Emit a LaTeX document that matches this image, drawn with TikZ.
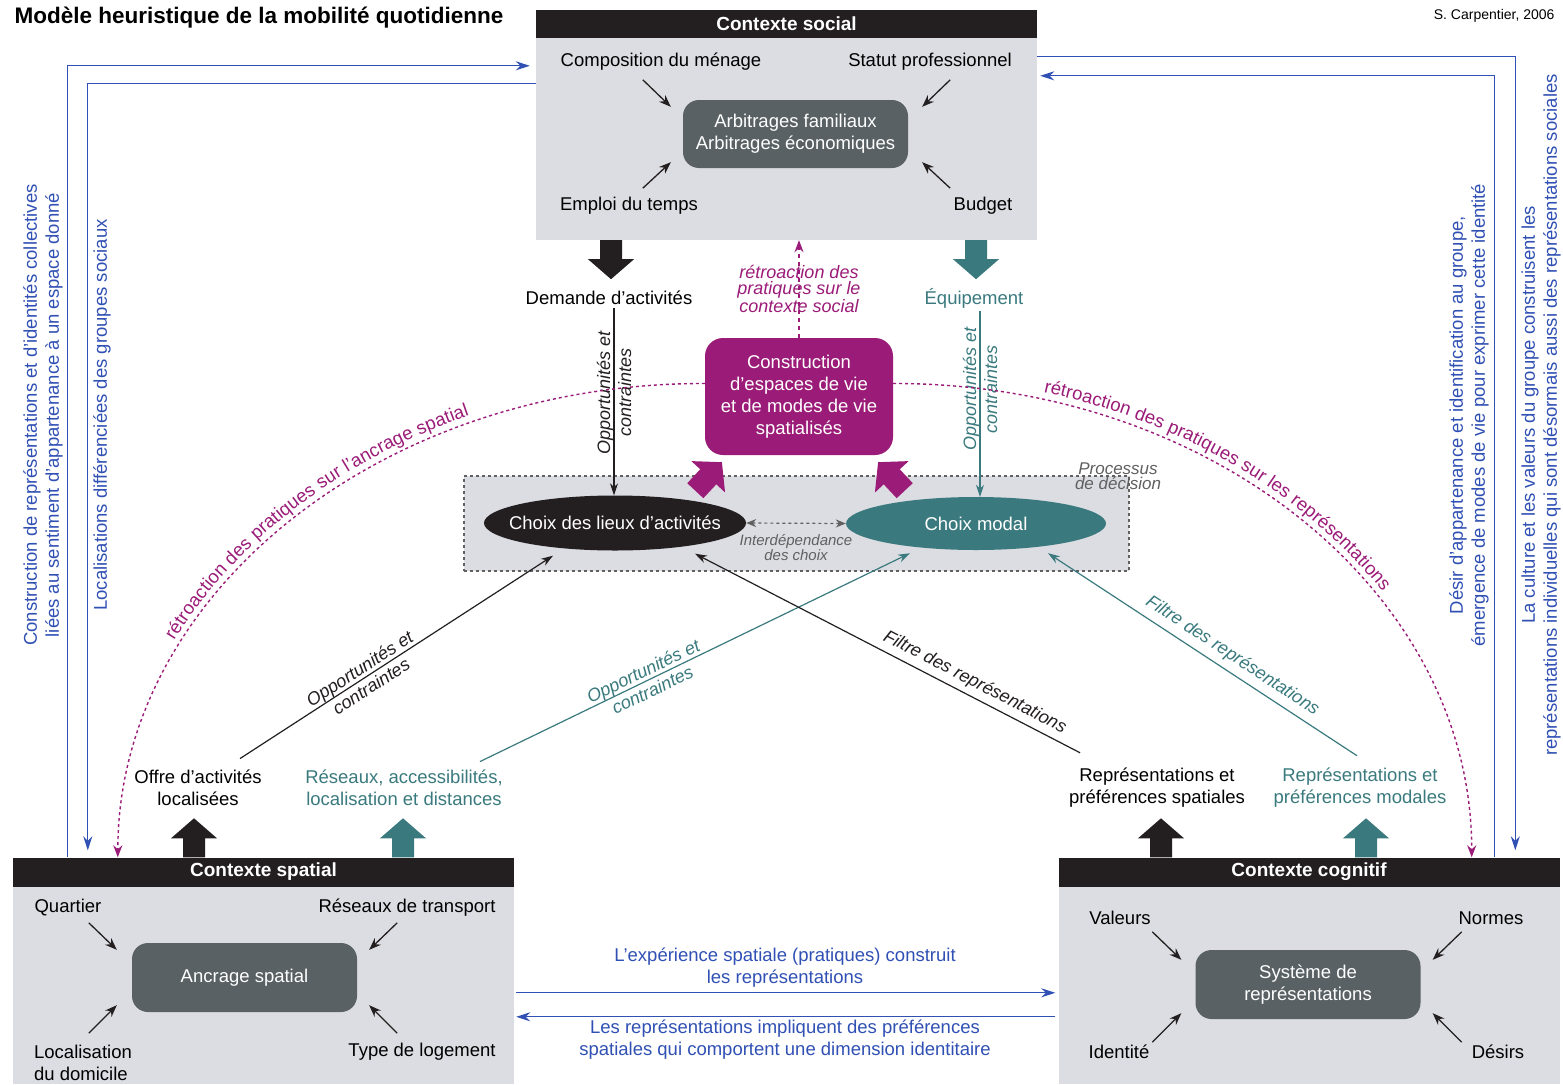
\documentclass[tikz,border=0pt]{standalone}
\usepackage{fontspec}
\setmainfont{Liberation Sans}
\usetikzlibrary{arrows.meta,calc,shapes.geometric,decorations.text}

\definecolor{hdblack}{HTML}{231F20}
\definecolor{boxgray}{HTML}{DCDDE2}
\definecolor{coregray}{HTML}{596164}
\definecolor{tealc}{HTML}{3A7A7E}
\definecolor{retromag}{HTML}{9B1C78}
\definecolor{linkblue}{HTML}{3050B4}
\definecolor{dashgray}{HTML}{606060}

\tikzset{
  ctxhead/.style={fill=hdblack, text=white, font=\bfseries\fontsize{19}{22}\selectfont, minimum width=501pt, minimum height=29pt, inner sep=0pt},
  ctxbody/.style={fill=boxgray, minimum width=501pt, inner sep=0pt},
  core/.style={fill=coregray, text=white, rounded corners=16pt, minimum width=225pt, minimum height=68pt, align=center},
  feed/.style={-{Stealth[length=12pt,width=9pt]}, line width=1.3pt, hdblack},
  link/.style={-{Stealth[length=12pt,width=8pt]}, line width=1.2pt},
  bluelink/.style={-{Stealth[length=14pt,width=9pt]}, line width=1.2pt, linkblue},
  retro/.style={retromag, line width=1.4pt, dash pattern=on 3pt off 3pt, -{Stealth[length=12pt,width=9pt]}},
  lbl/.style={font=\itshape\fontsize{18}{21}\selectfont, align=center, inner sep=1pt},
  bluetext/.style={text=linkblue, align=center},
  blockup/.pic={\fill (-11,0) -- (-11,-19) -- (-23,-19) -- (0,-39) -- (23,-19) -- (11,-19) -- (11,0) -- cycle;}
}

\begin{document}
\begin{tikzpicture}[x=1pt, y=-1pt, font=\fontsize{18.5}{22}\selectfont]
\fill[white] (0,0) rectangle (1563,1084);
\useasboundingbox (0,0) rectangle (1563,1084);

\node[anchor=west, font=\bfseries\fontsize{22.5}{24}\selectfont] (title) at (11,18) {Modèle heuristique de la mobilité quotidienne};
\node[anchor=east, font=\fontsize{14}{16}\selectfont] (credit) at (1558,16) {S. Carpentier, 2006};

\node[ctxhead] (socialhead) at (786.5,24) {Contexte social};
\node[ctxbody, minimum height=202pt] (socialbody) at (786.5,139) {};
\node[core] (arbit) at (795.5,134) {Arbitrages familiaux\\Arbitrages économiques};
\node (menage) at (661,62) {Composition du ménage};
\node (statut) at (930,62) {Statut professionnel};
\node (emploi) at (629,206) {Emploi du temps};
\node (budget) at (983,206) {Budget};

\node[ctxhead] (spatialhead) at (263.5,872) {Contexte spatial};
\node[ctxbody, minimum height=197pt] (spatialbody) at (263.5,985.5) {};
\node[core, minimum height=69pt] (ancrage) at (244.5,977.5) {Ancrage spatial};
\node (quartier) at (68,908) {Quartier};
\node (transport) at (407,908) {Réseaux de transport};
\node[align=left] (domicile) at (83,1063) {Localisation\\du domicile};
\node (logement) at (422,1052) {Type de logement};

\node[ctxhead] (cognhead) at (1309,872) {Contexte cognitif};
\node[ctxbody, minimum height=197pt] (cognbody) at (1309,985.5) {};
\node[core, minimum height=69pt] (systeme) at (1308,984.5) {Système de\\représentations};
\node (valeurs) at (1120,918) {Valeurs};
\node (normes) at (1491,918) {Normes};
\node (identite) at (1119,1052) {Identité};
\node (desirs) at (1498,1052) {Désirs};

\draw[feed] ($(arbit.north west)+(-40,-20)$) -- ($(arbit.north west)+(-12,7)$);
\draw[feed] ($(arbit.north east)+(42,-20)$) -- ($(arbit.north east)+(14,7)$);
\draw[feed] ($(arbit.south west)+(-40,20)$) -- ($(arbit.south west)+(-12,-6)$);
\draw[feed] ($(arbit.south east)+(42,20)$) -- ($(arbit.south east)+(14,-6)$);
\draw[feed] ($(ancrage.north west)+(-43,-20)$) -- ($(ancrage.north west)+(-15,7)$);
\draw[feed] ($(ancrage.north east)+(40,-20)$) -- ($(ancrage.north east)+(12,7)$);
\draw[feed] ($(ancrage.south west)+(-43,21)$) -- ($(ancrage.south west)+(-15,-7)$);
\draw[feed] ($(ancrage.south east)+(40,21)$) -- ($(ancrage.south east)+(12,-7)$);
\draw[feed] ($(systeme.north west)+(-43,-18)$) -- ($(systeme.north west)+(-14,10)$);
\draw[feed] ($(systeme.north east)+(41,-18)$) -- ($(systeme.north east)+(12,10)$);
\draw[feed] ($(systeme.south west)+(-43,23)$) -- ($(systeme.south west)+(-14,-6)$);
\draw[feed] ($(systeme.south east)+(41,23)$) -- ($(systeme.south east)+(12,-6)$);

\node[draw=dashgray, dashed, fill=boxgray, line width=1.2pt, minimum width=665pt, minimum height=95pt] (decision) at (796.5,523.5) {};
\node[lbl, text=dashgray, font=\itshape\fontsize{17}{15}\selectfont] (processus) at (1118,476) {Processus\\de décision};
\node[ellipse, fill=hdblack, minimum width=262pt, minimum height=55pt, inner sep=0pt] (lieux) at (615,523) {};
\node[text=white] (lieuxtext) at (lieux) {Choix des lieux d'activités};
\node[ellipse, fill=tealc, minimum width=260pt, minimum height=53pt, inner sep=0pt] (modal) at (976,523.5) {};
\node[text=white] (modaltext) at (modal) {Choix modal};

\node[fill=retromag, text=white, rounded corners=18pt, minimum width=188pt, minimum height=117pt, align=center] (constr) at (799,396.5) {Construction\\d'espaces de vie\\et de modes de vie\\spatialisés};
\path ($(constr.south west)+(-9.5,35.5)$) pic[retromag, rotate=-43] {blockup};
\path ($(constr.south east)+(11.5,35.5)$) pic[retromag, rotate=43] {blockup};

\node (demande) at (609,298) {Demande d'activités};
\node[text=tealc] (equip) at (974,298) {Équipement};
\node[align=center] (offre) at (198,788) {Offre d'activités\\localisées};
\node[align=center, text=tealc] (reseaux) at (404,788) {Réseaux, accessibilités,\\localisation et distances};
\node[align=center] (repspat) at (1157,788) {Représentations et\\préférences spatiales};
\node[align=center, text=tealc] (repmod) at (1360,788) {Représentations et\\préférences modales};

\path ($(socialbody.south -| demande)+(2,0)$) pic[hdblack, rotate=180] {blockup};
\path ($(socialbody.south -| equip)+(2,0)$) pic[tealc, rotate=180] {blockup};
\path ($(spatialhead.north -| offre)+(-4,0)$) pic[hdblack] {blockup};
\path ($(spatialhead.north -| reseaux)+(-1,0)$) pic[tealc] {blockup};
\path ($(cognhead.north -| repspat)+(4,0)$) pic[hdblack] {blockup};
\path ($(cognhead.north -| repmod)+(6,0)$) pic[tealc] {blockup};

\draw[link, hdblack] ($(demande.south)+(5,0)$) -- ($(lieux.north)+(-1,0)$) node[pos=0.45, rotate=90, lbl] {Opportunités et\\contraintes};
\draw[link, tealc] ($(equip.south)+(6,0)$) -- ($(modal.north)+(4,0)$) node[pos=0.42, rotate=90, lbl, text=tealc] {Opportunités et\\contraintes};
\draw[link, hdblack] ($(offre.north)+(42,-8)$) -- ($(lieux.south)+(-62,5)$) node[pos=0.4, sloped, lbl] {Opportunités et\\contraintes};
\draw[link, tealc] ($(reseaux.north)+(76,-5)$) -- ($(modal.south)+(-66,3)$) node[pos=0.39, sloped, lbl, text=tealc] {Opportunités et\\contraintes};
\draw[link, hdblack] ($(repspat.north)+(-77,-12)$) -- ($(lieux.south)+(80,3)$) node[pos=0.29, sloped, above=4pt, lbl] {Filtre des représentations};
\draw[link, tealc] ($(repmod.north)+(-3,-9)$) -- ($(modal.south)+(72,3)$) node[pos=0.43, sloped, above=5pt, lbl, text=tealc] {Filtre des représentations};
\draw[dashgray, dashed, line width=1.2pt, {Stealth[length=10pt,width=8pt]}-{Stealth[length=10pt,width=8pt]}] (lieux.east) -- (modal.west) node[midway, below=10pt, lbl, text=dashgray, font=\itshape\fontsize{15}{15}\selectfont] {Interdépendance\\des choix};

\draw[retro, dash pattern=on 4pt off 4pt] (constr.north) -- (constr.north |- socialbody.south) node[midway, lbl, text=retromag, font=\itshape\fontsize{18}{15.5}\selectfont] {rétroaction des\\pratiques sur le\\contexte social};
\draw[retro] ($(constr.west)+(0,-13)$) .. controls (380,383) and (118,595) .. ($(spatialhead.north west)+(105,0)$);
\draw[retro] ($(constr.east)+(0,-13)$) .. controls (1215,383) and (1472,595) .. ($(cognhead.north east)+(-88,0)$);
\path[decorate, decoration={text along path, raise=7pt, text align={left, left indent=225pt}, text={|\fontsize{18.5}{22}\selectfont\color{retromag}|rétroaction des pratiques sur l'ancrage spatial}}] ($(spatialhead.north west)+(105,0)$) .. controls (118,595) and (380,383) .. ($(constr.west)+(0,-13)$);
\path[decorate, decoration={text along path, raise=7pt, text align={left, left indent=150pt}, text={|\fontsize{18.5}{22}\selectfont\color{retromag}|rétroaction des pratiques sur les représentations}}] ($(constr.east)+(0,-13)$) .. controls (1215,383) and (1472,595) .. ($(cognhead.north east)+(-88,0)$);

\draw[bluelink] ($(spatialhead.north west)+(55,0)$) |- ($(socialbody.north west)+(-6,28)$);
\draw[bluelink] ($(socialbody.north west)+(0,46)$) -| ($(spatialhead.north west)+(75,-7)$);
\draw[bluelink] ($(socialbody.north east)+(0,19)$) -| ($(cognhead.north west)+(457,-7)$);
\draw[bluelink] ($(cognhead.north west)+(436,0)$) |- ($(socialbody.north east)+(3,38)$);
\draw[bluelink] ($(spatialbody.north east)+(2,106)$) -- ($(cognbody.north west)+(-3,106)$);
\draw[bluelink] ($(cognbody.north west)+(-3,130)$) -- ($(spatialbody.north east)+(2,130)$);

\node[rotate=90, bluetext] (identlbl) at (43,415) {Construction de représentations et d'identités collectives\\liées au sentiment d'appartenance à un espace donné};
\node[rotate=90, bluetext] (localbl) at (102,415) {Localisations différenciées des groupes sociaux};
\node[rotate=90, bluetext] (desirlbl) at (1469,415) {Désir d'appartenance et identification au groupe,\\émergence de modes de vie pour exprimer cette identité};
\node[rotate=90, bluetext] (culturelbl) at (1541,415) {La culture et les valeurs du groupe construisent les\\représentations individuelles qui sont désormais aussi des représentations sociales};
\node[bluetext] (experience) at (785,968) {L'expérience spatiale (pratiques) construit\\les représentations};
\node[bluetext] (implique) at (785,1040) {Les représentations impliquent des préférences\\spatiales qui comportent une dimension identitaire};
\end{tikzpicture}
\end{document}
